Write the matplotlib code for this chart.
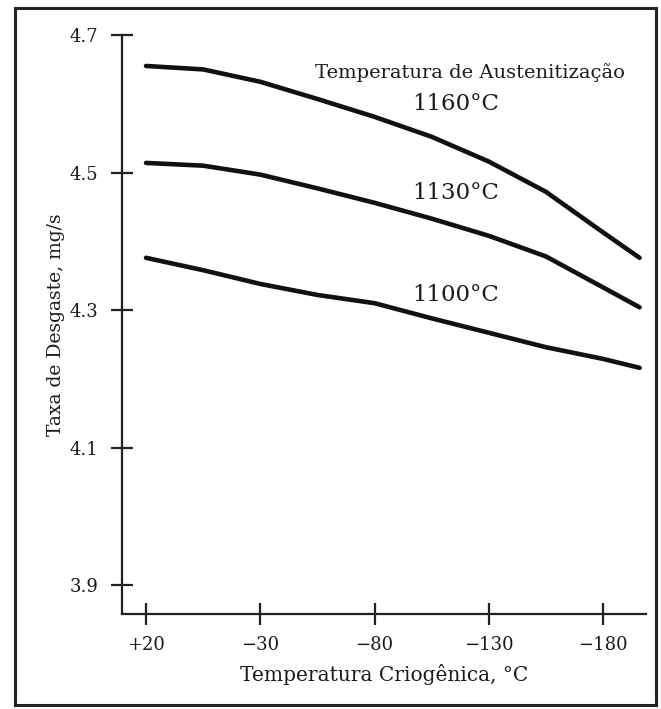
import numpy as np
import matplotlib
matplotlib.use("Agg")
import matplotlib.pyplot as plt
from matplotlib.patches import Rectangle

# Temperatura criogenica (graus C) e taxa de desgaste (mg/s)
temperaturas = [20, -5, -30, -55, -80, -105, -130, -155, -180, -196]
taxa_1160 = [4.655, 4.650, 4.632, 4.607, 4.581, 4.552, 4.516, 4.472, 4.413, 4.376]
taxa_1130 = [4.514, 4.510, 4.497, 4.477, 4.456, 4.433, 4.408, 4.378, 4.333, 4.304]
taxa_1100 = [4.376, 4.358, 4.338, 4.322, 4.310, 4.288, 4.267, 4.246, 4.229, 4.216]

rotulos_curvas = ["1160°C", "1130°C", "1100°C"]
xticks = [20, -30, -80, -130, -180]
xtick_labels = ["+20", "−30", "−80", "−130", "−180"]
yticks = [3.9, 4.1, 4.3, 4.5, 4.7]
ytick_labels = ["3.9", "4.1", "4.3", "4.5", "4.7"]

plt.rcParams["font.family"] = ["DejaVu Serif"]

fig = plt.figure(figsize=(6.61, 7.09), dpi=100)
ax = fig.add_axes([0.1846, 0.134, 0.7927, 0.8166])

for taxa in [taxa_1160, taxa_1130, taxa_1100]:
    ax.plot(temperaturas, taxa, color="#111111", lw=3.3, solid_capstyle="round")

ax.set_xlim(30.5, -198.8)
ax.set_ylim(3.858, 4.7)

ax.set_xticks(xticks)
ax.set_xticklabels(xtick_labels, fontsize=13, color="#1a1a1a")
ax.set_yticks(yticks)
ax.set_yticklabels(ytick_labels, fontsize=13, color="#1a1a1a")
ax.tick_params(axis="both", direction="inout", length=16, width=1.6, color="#222222")
ax.tick_params(axis="x", pad=8)
ax.tick_params(axis="y", pad=9)

for lado in ["top", "right"]:
    ax.spines[lado].set_visible(False)
for lado in ["left", "bottom"]:
    ax.spines[lado].set_linewidth(1.6)
    ax.spines[lado].set_color("#222222")

ax.set_xlabel("Temperatura Criogênica, °C", fontsize=14.5, labelpad=7, color="#1a1a1a")
ax.set_ylabel("Taxa de Desgaste, mg/s", fontsize=13.5, labelpad=3, color="#1a1a1a")

# Titulo da legenda e rotulos das curvas
ax.text(0.664, 0.936, "Temperatura de Austenitização", transform=ax.transAxes,
        ha="center", va="center", fontsize=14, color="#1a1a1a")
pos_rotulos = [0.881, 0.727, 0.551]
for rot, py in zip(rotulos_curvas, pos_rotulos):
    ax.text(0.637, py, rot, transform=ax.transAxes, ha="center", va="center",
            fontsize=16.5, color="#1a1a1a")

# moldura externa
fig.add_artist(Rectangle((15 / 661, 1 - 705 / 709), 641 / 661, 697 / 709,
                         transform=fig.transFigure, fill=False, lw=2.2, ec="#222222"))

fig.savefig("out.png", dpi=100)
